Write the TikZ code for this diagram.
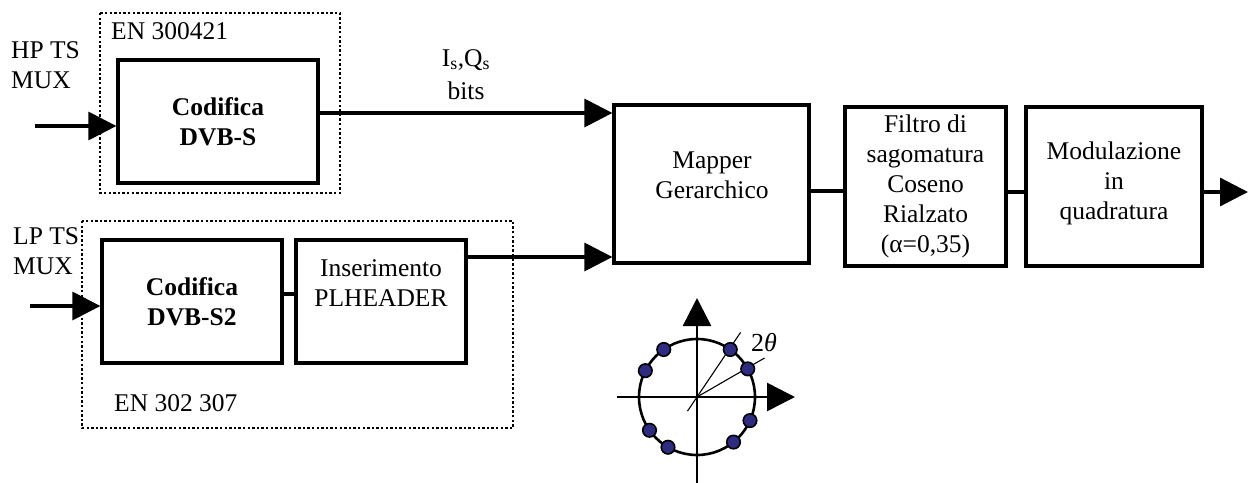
\documentclass[tikz,border=0pt]{standalone}
\usepackage{fontspec}
\setmainfont{Liberation Serif}
\usetikzlibrary{arrows.meta,calc}

\definecolor{dotblue}{HTML}{2E2C80}

\tikzset{
  txt/.style={font=\fontsize{25.5}{30}\selectfont, inner sep=0pt, align=center},
  blk/.style={draw, line width=3.2pt, txt},
  grp/.style={draw, line width=2.4pt, dash pattern=on 2.4pt off 2.2pt},
  wire/.style={line width=3.2pt},
  arr/.style={wire, -{Triangle[length=28pt,width=28pt]}},
  axis/.style={line width=2.6pt, -{Triangle[length=28pt,width=28pt]}},
  ray/.style={line width=1.1pt},
  sym/.style={circle, draw, line width=1.6pt, fill=dotblue, minimum size=13.5pt, inner sep=0pt},
}

\begin{document}
\begin{tikzpicture}[x=1pt, y=-1pt]
\useasboundingbox (0,0) rectangle (1250,482);

% standard groups (dotted frames)
\draw[grp] (100,13) rectangle (340,193);
\draw[grp] (82,221) rectangle (513,428);
\node[txt, anchor=west] (en1) at (111,31) {EN 300421};
\node[txt, anchor=west] (en2) at (114,403) {EN 302 307};

% processing blocks
\node[blk, minimum width=200pt, minimum height=123pt] (dvbs) at (218,121.5)
  {\textbf{Codifica}\\\textbf{DVB-S}};
\node[blk, minimum width=180pt, minimum height=123pt] (dvbs2) at (192,301.5)
  {\textbf{Codifica}\\\textbf{DVB-S2}};
\node[blk, minimum width=170pt, minimum height=123pt, anchor=center] (plh) at (381,301.5) {};
\node[txt] (plhtxt) at (381,283.5) {Inserimento\\PLHEADER};
\node[blk, minimum width=195pt, minimum height=158pt] (mapper) at (711.5,184) {};
\node[txt] (maptxt) at (712,175) {Mapper\\Gerarchico};
\node[blk, minimum width=161pt, minimum height=159pt] (filtro) at (925.5,186.5)
  {Filtro di\\sagomatura\\Coseno\\Rialzato\\(α=0,35)};
\node[blk, minimum width=176pt, minimum height=159pt] (modul) at (1114,186.5) {};
\node[txt] (modtxt) at (1114,183) {Modulazione\\in\\quadratura};

% inputs
\node[txt, anchor=west, align=left] (hp) at (11,65) {HP TS\\MUX};
\node[txt, anchor=west, align=left] (lp) at (13,251) {LP TS\\MUX};
\coordinate (hpin) at (35,126);
\coordinate (lpin) at (30,306);
\coordinate (out) at (1248,192);

% connectors
\draw[arr] (hpin) -- (hpin -| dvbs.west);
\draw[arr] (lpin) -- (lpin -| dvbs2.west);
\draw[arr] ([yshift=8.5pt]dvbs.east) -- ([yshift=8.5pt]dvbs.east -| mapper.west)
  node[txt, midway, above=12pt] (iq) {I\textsubscript{s},Q\textsubscript{s}\\[3pt]bits};
\draw[wire] ([yshift=7.5pt]dvbs2.east) -- ([yshift=7.5pt]dvbs2.east -| plh.west);
\draw[arr] ([xshift=-4pt,yshift=44.5pt]plh.east) -- ([yshift=44.5pt]plh.east -| mapper.west);
\draw[wire] ([yshift=-7pt]mapper.east) -- ([yshift=-7pt]mapper.east -| filtro.west);
\draw[wire] ([yshift=-5.5pt]filtro.east) -- ([yshift=-5.5pt]filtro.east -| modul.west);
\draw[arr] (out -| modul.east) -- (out);

% hierarchical 8PSK constellation
\coordinate (o) at (697,397);
\coordinate (xl) at (617,397);
\coordinate (xr) at (795,397);
\coordinate (yb) at (697,486);
\coordinate (yt) at (697,298);
\draw[axis] (xl) -- (xr);
\draw[axis] (yb) -- (yt);
\draw[line width=2.6pt] (o) circle[radius=58pt];
\draw[ray] ($(o)+(236:17pt)$) -- ($(o)+(56:78pt)$);
\draw[ray] (o) -- ($(o)+(30:78pt)$);
\foreach \a [count=\i] in {55,29,125,153,215,240,309,336}
  \node[sym] (c\i) at ($(o)+(\a:58pt)$) {};
\node[txt, font=\fontsize{26}{30}\selectfont] (theta) at (764,343) {2\textit{θ}};
\end{tikzpicture}
\end{document}
